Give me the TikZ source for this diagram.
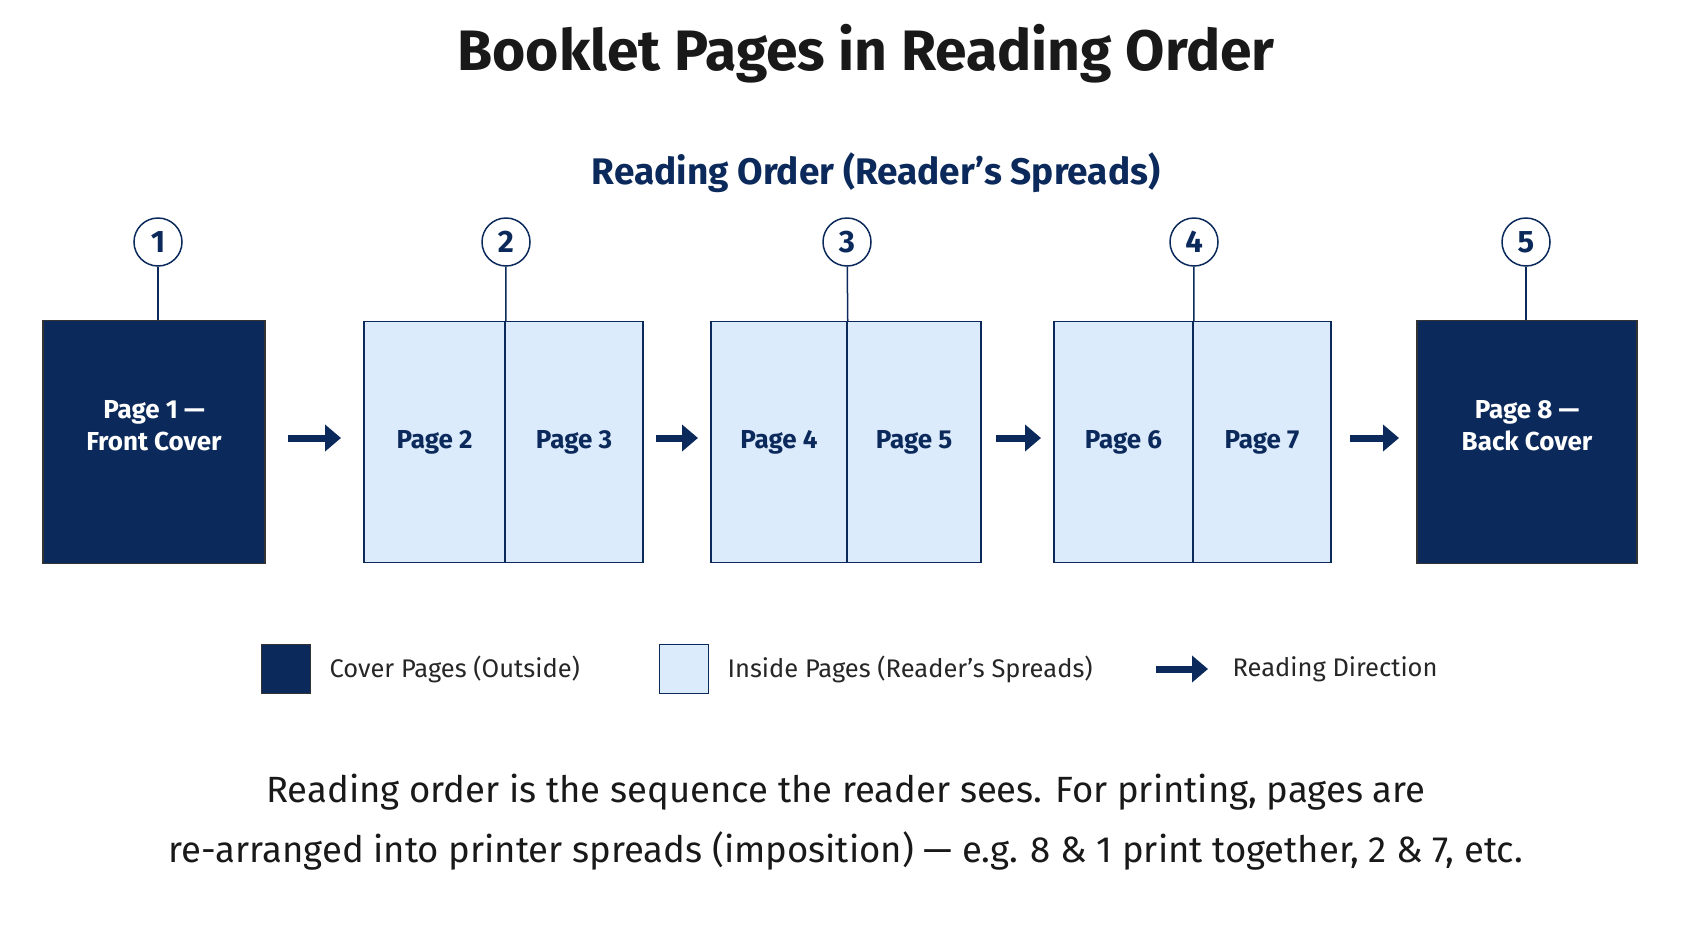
\documentclass[tikz,border=0pt]{standalone}
\usepackage{fontspec}
\setmainfont{Fira Sans}[Ligatures=ResetAll]
\usetikzlibrary{arrows.meta,positioning}
\definecolor{navy}{HTML}{0B2A5B}
\definecolor{pale}{HTML}{DCEBFC}
\tikzstyle{cover}=[draw=black!80,line width=1.5pt,fill=navy,text=white,font=\fontsize{26}{32}\selectfont\bfseries,align=center,inner sep=0pt]
\tikzstyle{page}=[draw=navy,line width=1.5pt,fill=pale,text=navy,font=\fontsize{26}{29}\selectfont\bfseries,inner sep=0pt]
\tikzstyle{num}=[circle,draw=navy,line width=1.5pt,fill=white,text=navy,minimum size=48pt,inner sep=0pt,font=\fontsize{31}{31}\selectfont\bfseries]
\tikzstyle{flow}=[-{Triangle[length=16pt,width=26pt]},line width=7pt,navy]
\tikzstyle{legtext}=[anchor=west,text=black!85,font=\fontsize{25.5}{28}\selectfont]
\begin{document}
\begin{tikzpicture}[x=1pt,y=-1pt]
            \useasboundingbox (0,0) rectangle (1693,929);
            \node [font=\fontsize{57}{60}\selectfont\bfseries,text=black!90] (title) at (866,54) {Booklet Pages in Reading Order};
            \node [font=\fontsize{37}{40}\selectfont\bfseries,text=navy] (sub) at (876,173) {Reading Order (Reader's Spreads)};
            % covers
            \node [style=cover,minimum width=222pt,minimum height=243pt] (p1) at (154,442) {Page 1 —\\Front Cover\\[2pt]};
            \node [style=cover,minimum width=220pt,minimum height=243pt] (p8) at (1527,442) {Page 8 —\\Back Cover\\[2pt]};
            % spreads
            \node [style=page,minimum width=141pt,minimum height=241pt] (p2) at (434.5,442) {Page 2};
            \node [style=page,minimum width=138pt,minimum height=241pt] (p3) at (574,442) {Page 3};
            \node [style=page,minimum width=136pt,minimum height=241pt] (p4) at (779,442) {Page 4};
            \node [style=page,minimum width=134pt,minimum height=241pt] (p5) at (914,442) {Page 5};
            \node [style=page,minimum width=139pt,minimum height=241pt] (p6) at (1123.5,442) {Page 6};
            \node [style=page,minimum width=138pt,minimum height=241pt] (p7) at (1262,442) {Page 7};
            % numbers
            \node [style=num] (n1) at (158,242) {1};
            \node [style=num] (n2) at (506,242) {2};
            \node [style=num] (n3) at (847,242) {3};
            \node [style=num] (n4) at (1194,242) {4};
            \node [style=num] (n5) at (1526,242) {5};
            \draw [navy,line width=1.5pt] (n1) to (n1 |- p1.north);
            \draw [navy,line width=1.5pt] (n2) to (p2.north east);
            \draw [navy,line width=1.5pt] (n3) to (p4.north east);
            \draw [navy,line width=1.5pt] (n4) to (p6.north east);
            \draw [navy,line width=1.5pt] (n5) to (n5 |- p8.north);
            % arrows
            \coordinate (a1) at (288,438); \coordinate (b1) at (341,438);
            \coordinate (a2) at (656,438); \coordinate (b2) at (698,438);
            \coordinate (a3) at (996,438); \coordinate (b3) at (1041,438);
            \coordinate (a4) at (1350,438); \coordinate (b4) at (1399,438);
            \draw [style=flow] (a1) to (b1);
            \draw [style=flow] (a2) to (b2);
            \draw [style=flow] (a3) to (b3);
            \draw [style=flow] (a4) to (b4);
            % legend
            \node [style=cover,minimum width=49pt,minimum height=49pt] (l1) at (286,669) {};
            \node [style=legtext] (t1) at (326,669) {Cover Pages (Outside)};
            \node [style=page,minimum width=49pt,minimum height=49pt] (l2) at (684,669) {};
            \node [style=legtext] (t2) at (724,669) {Inside Pages (Reader's Spreads)};
            \coordinate (a5) at (1156,669); \coordinate (b5) at (1208,669);
            \draw [style=flow] (a5) to (b5);
            \node [style=legtext] (t3) at (1229,669) {Reading Direction};
            % note
            \node [font=\fontsize{36.5}{60}\selectfont,text=black!90,align=center] (note) at (846,822) {Reading order is the sequence the reader sees. For printing, pages are\\re-arranged into printer spreads (imposition) — e.g. 8 \& 1 print together, 2 \& 7, etc.};
    \end{tikzpicture}
\end{document}
